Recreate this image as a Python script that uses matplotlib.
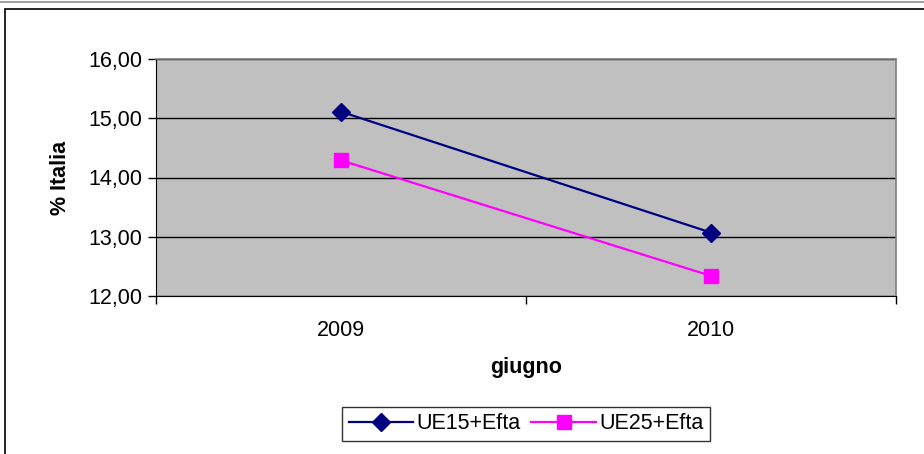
import matplotlib
matplotlib.use("Agg")
import matplotlib.pyplot as plt
from matplotlib.patches import Rectangle

categories = ["2009", "2010"]
ue15 = [15.11, 13.07]
ue25 = [14.29, 12.34]
y_ticks = [12, 13, 14, 15, 16]
y_labels = ["12,00", "13,00", "14,00", "15,00", "16,00"]

plt.rcParams['font.family'] = ['Liberation Sans', 'DejaVu Sans']
FS = 15.5

W, H = 924, 454
fig = plt.figure(figsize=(W / 100, H / 100), dpi=100)
fig.patch.set_facecolor("white")

# outer chart border
fig.add_artist(Rectangle((5 / W, -0.05), 1.0, 1 - 9 / H + 0.05, transform=fig.transFigure,
                         fill=False, edgecolor="black", linewidth=1.2))
fig.add_artist(plt.Line2D([0, 1], [1 - 1.5 / H, 1 - 1.5 / H], transform=fig.transFigure,
                          color="#a0a0a0", linewidth=1.5))

left, right, top, bottom = 156, 896, 59, 296
ax = fig.add_axes([left / W, 1 - bottom / H, (right - left) / W, (bottom - top) / H])
ax.set_facecolor("#c0c0c0")

x = [0.5, 1.5]
ax.plot(x, ue15, color="#000080", linewidth=1.6, marker="D", markersize=9.5,
        label="UE15+Efta")
ax.plot(x, ue25, color="#ff00ff", linewidth=1.6, marker="s", markersize=10.5,
        label="UE25+Efta")

ax.set_xlim(0, 2)
ax.set_ylim(12, 16)
ax.set_yticks(y_ticks)
ax.set_yticklabels(y_labels, fontsize=FS)
ax.yaxis.grid(True, color="black", linewidth=1.0)
ax.set_axisbelow(True)

ax.set_xticks([0, 1, 2])
ax.set_xticklabels([])
ax.set_xticks(x, minor=True)
ax.set_xticklabels(categories, minor=True, fontsize=FS)
ax.tick_params(axis="x", which="minor", length=0, pad=17)
ax.tick_params(axis="x", which="major", length=6, width=1, color="black", direction="out")
ax.tick_params(axis="y", length=6, width=1, color="black", direction="out", pad=4)

for s in ["top", "right"]:
    ax.spines[s].set_color("#808080")
    ax.spines[s].set_linewidth(1.2)
ax.spines["left"].set_color("black")
ax.spines["bottom"].set_color("black")

ax.set_ylabel("% Italia", fontsize=FS, fontweight="bold", labelpad=12)
ax.set_xlabel("giugno", fontsize=FS, fontweight="bold", labelpad=12)

leg = ax.legend(loc="center", bbox_to_anchor=((526 - left) / (right - left), -(424 - bottom) / (bottom - top)),
                ncol=2, frameon=True, fancybox=False, fontsize=FS,
                handlelength=3.0, handletextpad=0.15, columnspacing=0.5,
                borderpad=0.3, borderaxespad=0, edgecolor="black")
leg.get_frame().set_linewidth(1.0)

fig.savefig("out.png", dpi=100)
